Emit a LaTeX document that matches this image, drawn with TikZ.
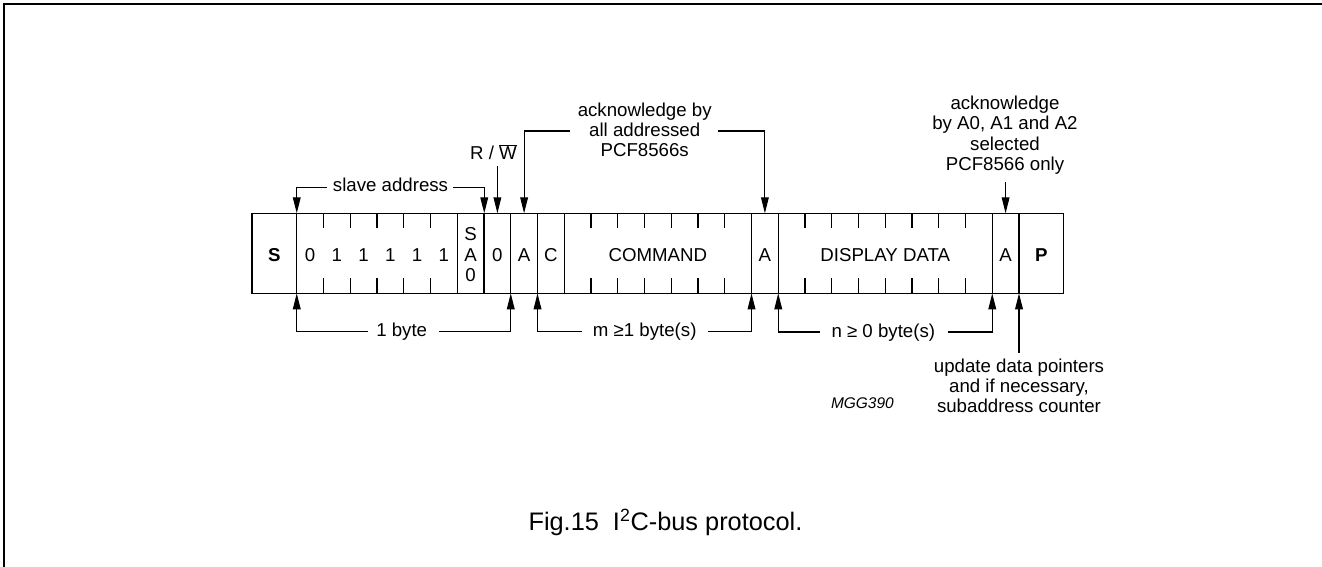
\documentclass[tikz,border=0pt]{standalone}
\usepackage{fontspec}
\setmainfont{Liberation Sans}
\usetikzlibrary{arrows.meta}
\begin{document}
\begin{tikzpicture}[x=0.75pt,y=-0.75pt,line width=0.8pt,
  txt/.style={font=\fontsize{14}{15}\selectfont, inner sep=0pt, anchor=base},
  bold/.style={txt, font=\fontsize{14}{15}\selectfont\bfseries},
  arr/.style={-{Triangle[length=12pt,width=5.8pt]}},
  tick/.style={line width=0.8pt}]
\useasboundingbox (0,0) rectangle (1322,567);
% outer frame (top and left edges)
\draw[line width=1.9pt] (4,567) -- (4,4) -- (1322,4);
% frame box
\draw (252,213.3) rectangle (1063.75,293.3);
\foreach \k in {0,6,7,8,9,10,17,18,26,27}
  \draw (296.75+26.75*\k,213.3) -- (296.75+26.75*\k,293.3);
\foreach \k in {1,2,3,4,5,11,12,13,14,15,16,19,20,21,22,23,24,25}{
  \draw[tick] (296.75+26.75*\k,213.3) -- (296.75+26.75*\k,228.3);
  \draw[tick] (296.75+26.75*\k,293.3) -- (296.75+26.75*\k,278.3);}
% cell texts
\node[bold] (cS) at (274.4,261.5) {S};
\node[txt] (b0) at (310.1,261.5) {0};
\node[txt] (b1) at (336.9,261.5) {1};
\node[txt] (b2) at (363.6,261.5) {1};
\node[txt] (b3) at (390.4,261.5) {1};
\node[txt] (b4) at (417.1,261.5) {1};
\node[txt] (b5) at (443.9,261.5) {1};
\node[txt] (sa1) at (470.6,240.5) {S};
\node[txt] (sa2) at (470.6,261.5) {A};
\node[txt] (sa3) at (470.6,281.5) {0};
\node[txt] (b7) at (497.4,261.5) {0};
\node[txt] (cA1) at (524.1,261.5) {A};
\node[txt] (cC) at (550.9,261.5) {C};
\node[txt] (cCmd) at (657.9,261.5) {COMMAND};
\node[txt] (cA2) at (764.9,261.5) {A};
\node[txt] (cDisp) at (885.25,261.5) {DISPLAY DATA};
\node[txt] (cA3) at (1005.6,261.5) {A};
\node[bold] (cP) at (1041.4,261.5) {P};
% arrow tip points
\coordinate (t0) at (296.75,213.3);
\coordinate (t7) at (484.25,213.3);
\coordinate (tRW) at (497.4,213.3);
\coordinate (tA1) at (524.1,213.3);
\coordinate (tA2) at (764.9,213.3);
\coordinate (tA3) at (1005.6,213.3);
\coordinate (u0) at (296.75,293.3);
\coordinate (u8) at (510.75,293.3);
\coordinate (u9) at (537.5,293.3);
\coordinate (u17) at (751.5,293.3);
\coordinate (u18) at (778.25,293.3);
\coordinate (u26) at (992.25,293.3);
\coordinate (u27) at (1019,293.3);
% slave address
\node[txt] (lsa) at (390.5,191) {slave address};
\coordinate (saA) at (326.7,187.3);
\coordinate (saB) at (453,187.3);
\draw[arr] (saA) -| (t0);
\draw[arr] (saB) -| (t7);
% R/W
\node[txt] (lrw) at (493.5,160) {R / $\overline{\mbox{W}}$};
\coordinate (rwS) at (497.4,166);
\draw[arr] (rwS) -- (tRW);
% acknowledge by all addressed
\node[txt] (la1) at (644.7,116.7) {acknowledge by};
\node[txt] (la2) at (644.7,136.7) {all addressed};
\node[txt] (la3) at (644.7,156.9) {PCF8566s};
\coordinate (akA) at (570,131);
\coordinate (akB) at (718,131);
\draw[arr] (akA) -| (tA1);
\draw[arr] (akB) -| (tA2);
% acknowledge by A0..
\node[txt] (lb1) at (1005,109.5) {acknowledge};
\node[txt] (lb2) at (1005,129.9) {by A0, A1 and A2};
\node[txt] (lb3) at (1005,150.3) {selected};
\node[txt] (lb4) at (1005,170.7) {PCF8566 only};
\coordinate (akS) at (1005.6,182);
\draw[arr] (akS) -- (tA3);
% 1 byte
\node[txt] (l1b) at (401.7,336) {1 byte};
\coordinate (obA) at (368,331.7);
\coordinate (obB) at (439,331.7);
\draw[arr] (obA) -| (u0);
\draw[arr] (obB) -| (u8);
% m bytes
\node[txt] (lmb) at (644.7,336) {m \char"2265 1 byte(s)};
\coordinate (mA) at (581.7,331.7);
\coordinate (mB) at (707.7,331.7);
\draw[arr] (mA) -| (u9);
\draw[arr] (mB) -| (u17);
% n bytes
\node[txt] (lnb) at (883.3,337) {n \char"2265{} 0 byte(s)};
\coordinate (nA) at (820,332);
\coordinate (nB) at (947.7,332);
\draw[arr] (nA) -| (u18);
\draw[arr] (nB) -| (u26);
% update
\coordinate (upS) at (1019,353);
\draw[arr] (upS) -- (u27);
\node[txt] (lu1) at (1019,372.5) {update data pointers};
\node[txt] (lu2) at (1019,392) {and if necessary,};
\node[txt] (lu3) at (1019,412) {subaddress counter};
% id
\node[inner sep=0pt, anchor=base east, font=\fontsize{11.6}{13}\selectfont\itshape] (mgg) at (894.3,408.3) {MGG390};
% caption
\node[inner sep=0pt, anchor=base west, font=\fontsize{19}{22}\selectfont] (cap) at (528,530) {Fig.15\ \ I\textsuperscript{2}C-bus protocol.};
\end{tikzpicture}
\end{document}
